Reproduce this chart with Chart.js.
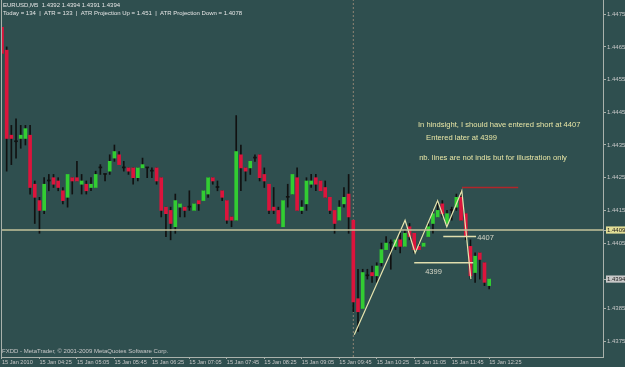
<!DOCTYPE html>
<html>
<head>
<meta charset="utf-8">
<script src="https://cdn.jsdelivr.net/npm/chart.js@4.4.1/dist/chart.umd.min.js"></script>
<style>
  html, body { margin: 0; padding: 0; background: #2f4f4f; overflow: hidden; }
  canvas { display: block; }
</style>
</head>
<body>
<canvas id="chart" width="625" height="367"></canvas>
<script>
// EURUSD M5 bars, 15 Jan 2010 03:45 .. 12:25
const opens = [
  1.4471, 1.4464, 1.4438, 1.4436, 1.4437, 1.4437, 1.4438, 1.4423, 1.4418, 1.4415,
  1.4424, 1.4425, 1.4424, 1.4421, 1.4419, 1.4425, 1.4425, 1.4423, 1.4423, 1.4422,
  1.4422, 1.4428, 1.4426, 1.4427, 1.4431, 1.4432, 1.4428, 1.4428, 1.4428, 1.4425,
  1.4428, 1.4428, 1.4427, 1.4428, 1.4425, 1.4416, 1.4415, 1.4410, 1.4416, 1.4416,
  1.4416, 1.4415, 1.4418, 1.4418, 1.4420, 1.4425, 1.4422, 1.4421, 1.4418, 1.4413,
  1.4412, 1.4432, 1.4428, 1.4428, 1.4431, 1.4432, 1.4426, 1.4423, 1.4416, 1.4415,
  1.4410, 1.4419, 1.4420, 1.4425, 1.4415, 1.4417, 1.4423, 1.4425, 1.4424, 1.4422,
  1.4419, 1.4415, 1.4412, 1.4417, 1.4420, 1.4412, 1.4388, 1.4385, 1.4395, 1.4396,
  1.4395, 1.4399, 1.4403, 1.4405, 1.4404, 1.4406, 1.4404, 1.4410, 1.4408, 1.4404,
  1.4404, 1.4407, 1.4411, 1.4413, 1.4417, 1.4411, 1.4415, 1.4416, 1.4419, 1.4414,
  1.4404, 1.4396, 1.4402, 1.4399, 1.4392
];
const highs = [
  1.4471, 1.4465, 1.4441, 1.4443, 1.4441, 1.4441, 1.4441, 1.4424, 1.4419, 1.4425,
  1.4426, 1.4426, 1.4425, 1.4422, 1.4426, 1.4425, 1.4430, 1.4426, 1.4424, 1.4425,
  1.4427, 1.4429, 1.4426, 1.4432, 1.4435, 1.4433, 1.4430, 1.4428, 1.4428, 1.4428,
  1.4431, 1.4428, 1.4428, 1.4428, 1.4425, 1.4416, 1.4416, 1.4420, 1.4417, 1.4416,
  1.4421, 1.4417, 1.4418, 1.4421, 1.4425, 1.4425, 1.4424, 1.4421, 1.4418, 1.4413,
  1.4444, 1.4435, 1.4428, 1.4430, 1.4432, 1.4432, 1.4428, 1.4423, 1.4422, 1.4416,
  1.4418, 1.4423, 1.4426, 1.4428, 1.4418, 1.4425, 1.4426, 1.4426, 1.4424, 1.4424,
  1.4419, 1.4415, 1.4418, 1.4422, 1.4426, 1.4412, 1.4397, 1.4397, 1.4397, 1.4398,
  1.4399, 1.4405, 1.4407, 1.4406, 1.4406, 1.4408, 1.4409, 1.4411, 1.4408, 1.4405,
  1.4405, 1.4411, 1.4415, 1.4418, 1.4418, 1.4415, 1.4416, 1.4420, 1.4421, 1.4414,
  1.4406, 1.4402, 1.4402, 1.4399, 1.4394
];
const lows = [
  1.4463, 1.4427, 1.4429, 1.4431, 1.4434, 1.4435, 1.4420, 1.4411, 1.4408, 1.4414,
  1.4421, 1.4422, 1.4421, 1.4417, 1.4416, 1.4420, 1.4424, 1.4420, 1.4420, 1.4421,
  1.4422, 1.4426, 1.4424, 1.4426, 1.4430, 1.4429, 1.4427, 1.4426, 1.4423, 1.4424,
  1.4428, 1.4425, 1.4425, 1.4423, 1.4413, 1.4407, 1.4406, 1.4408, 1.4413, 1.4413,
  1.4415, 1.4415, 1.4415, 1.4418, 1.4419, 1.4423, 1.4421, 1.4418, 1.4411, 1.4410,
  1.4412, 1.4421, 1.4424, 1.4426, 1.4430, 1.4424, 1.4422, 1.4414, 1.4414, 1.4411,
  1.4410, 1.4416, 1.4420, 1.4415, 1.4414, 1.4415, 1.4422, 1.4421, 1.4421, 1.4419,
  1.4414, 1.4408, 1.4412, 1.4416, 1.4408, 1.4384, 1.4378, 1.4385, 1.4394, 1.4393,
  1.4393, 1.4398, 1.4403, 1.4397, 1.4403, 1.4402, 1.4404, 1.4406, 1.4402, 1.4403,
  1.4404, 1.4407, 1.4408, 1.4413, 1.4413, 1.4411, 1.4412, 1.4415, 1.4412, 1.4406,
  1.4394, 1.4393, 1.4394, 1.4392, 1.4391
];
const closes = [
  1.4463, 1.4437, 1.4437, 1.4436, 1.4438, 1.4440, 1.4422, 1.4419, 1.4415, 1.4423,
  1.4424, 1.4423, 1.4422, 1.4418, 1.4426, 1.4424, 1.4424, 1.4424, 1.4421, 1.4423,
  1.4426, 1.4428, 1.4426, 1.4430, 1.4433, 1.4429, 1.4428, 1.4427, 1.4425, 1.4428,
  1.4429, 1.4428, 1.4427, 1.4424, 1.4415, 1.4414, 1.4411, 1.4418, 1.4417, 1.4415,
  1.4416, 1.4417, 1.4417, 1.4421, 1.4425, 1.4424, 1.4422, 1.4419, 1.4412, 1.4412,
  1.4433, 1.4428, 1.4427, 1.4430, 1.4431, 1.4425, 1.4424, 1.4415, 1.4415, 1.4411,
  1.4418, 1.4419, 1.4426, 1.4415, 1.4416, 1.4424, 1.4424, 1.4423, 1.4421, 1.4419,
  1.4415, 1.4411, 1.4416, 1.4419, 1.4413, 1.4387, 1.4384, 1.4396, 1.4395, 1.4395,
  1.4398, 1.4403, 1.4405, 1.4405, 1.4406, 1.4404, 1.4408, 1.4407, 1.4403, 1.4403,
  1.4405, 1.4410, 1.4414, 1.4415, 1.4414, 1.4414, 1.4415, 1.4419, 1.4412, 1.4407,
  1.4395, 1.4401, 1.4400, 1.4393, 1.4394
];

// time axis: a label every 8 bars
const timeTickBars = [0, 8, 16, 24, 32, 40, 48, 56, 64, 72, 80, 88, 96, 104];
const timeLabels = [
  '15 Jan 2010', '15 Jan 04:25', '15 Jan 05:05', '15 Jan 05:45', '15 Jan 06:25',
  '15 Jan 07:05', '15 Jan 07:45', '15 Jan 08:25', '15 Jan 09:05', '15 Jan 09:45',
  '15 Jan 10:25', '15 Jan 11:05', '15 Jan 11:45', '15 Jan 12:25'
];
const priceTicks = [1.4375, 1.4385, 1.4394, 1.4405, 1.4409, 1.4415, 1.4425,
                    1.4435, 1.4445, 1.4455, 1.4465, 1.4475];

const bidPrice = 1.4394;
const levelLine = 1.4409;

// hand drawn lines (bar index, price)
const zigzagBars = [75.2, 86.05, 88.2, 93.0, 94.96, 98.16, 100.1];
const zigzagPrices = [1.4377, 1.4412, 1.4402, 1.4418, 1.4410, 1.4421, 1.4394];
const idealEntry = 1.4407;
const actualEntry = 1.4399;
const topLevel = 1.4422;
const markerBar = 75;

const xMin = -0.21, xMax = 128.3;
const yMin = 1.437017, yMax = 1.447934;

const bodyData = opens.map((o, i) => ({ x: i, y: [o, closes[i]] }));
const wickData = opens.map((o, i) => ({ x: i, y: [lows[i], highs[i]] }));
const bodyColors = opens.map((o, i) =>
  closes[i] > o ? '#32cd32' : (closes[i] < o ? '#dc143c' : '#111111'));

const seg = (x0, x1, y) => [{ x: x0, y: y }, { x: x1, y: y }];
const lineDs = (data, color, width, extra) => Object.assign({
  type: 'line', data: data, borderColor: color, borderWidth: width,
  pointRadius: 0, tension: 0, order: 0, fill: false
}, extra || {});

const mtPlugin = {
  id: 'mtText',
  beforeDraw(chart) {
    const ctx = chart.ctx;
    ctx.save();
    ctx.fillStyle = '#2f4f4f';
    ctx.fillRect(0, 0, chart.width, chart.height);
    ctx.restore();
  },
  afterDraw(chart) {
    const { ctx, chartArea, scales: { x, y } } = chart;
    ctx.save();
    // left frame
    ctx.strokeStyle = '#a9b1ab';
    ctx.lineWidth = 1;
    ctx.beginPath();
    ctx.moveTo(chartArea.left + 0.5, chartArea.top);
    ctx.lineTo(chartArea.left + 0.5, chartArea.bottom);
    ctx.stroke();

    ctx.textBaseline = 'middle';
    ctx.font = '6px "Liberation Sans"';
    ctx.fillStyle = '#e6e6e6';
    ctx.fillText('EURUSD,M5  1.4392 1.4394 1.4391 1.4394', 3, 5);
    ctx.fillText('Today = 134  |  ATR = 133  |  ATR Projection Up = 1.451  |  ATR Projection Down = 1.4078', 3, 13);
    ctx.fillStyle = '#c8c8c8';
    ctx.fillText('FXDD - MetaTrader, \u00a9 2001-2009 MetaQuotes Software Corp.', 2, 351);

    ctx.font = '7.6px "Liberation Sans"';
    ctx.fillStyle = '#e8e6a6';
    ctx.fillText('In hindsight, I should have entered short at 4407', x.getPixelForValue(88.8), y.getPixelForValue(1.44411));
    ctx.fillText('Entered later at 4399', x.getPixelForValue(90.54), y.getPixelForValue(1.44371));
    ctx.fillText('nb. lines are not indis but for illustration only', x.getPixelForValue(89.05), y.getPixelForValue(1.4431));
    ctx.fillStyle = '#d8d8c8';
    ctx.font = '7.5px "Liberation Sans"';
    ctx.fillText('4407', x.getPixelForValue(101.43), y.getPixelForValue(1.44066));
    ctx.fillText('4399', x.getPixelForValue(90.33), y.getPixelForValue(1.43962));
    ctx.restore();
  }
};

new Chart(document.getElementById('chart'), {
  type: 'bar',
  data: {
    datasets: [
      { type: 'bar', data: bodyData, backgroundColor: bodyColors, borderWidth: 0,
        barThickness: 3, minBarLength: 1, grouped: false, order: 1 },
      { type: 'bar', data: wickData, backgroundColor: '#111111', borderWidth: 0,
        barThickness: 1, grouped: false, order: 2 },
      lineDs([{ x: markerBar, y: yMin }, { x: markerBar, y: yMax }], '#8e8474', 1,
        { borderDash: [2, 2], order: 3 }),
      lineDs(seg(xMin - 1, xMax + 1, levelLine), '#c4c29a', 1.5),
      lineDs(zigzagBars.map((b, i) => ({ x: b, y: zigzagPrices[i] })), '#e6e4ae', 1.2),
      lineDs(seg(94.2, 101.2, idealEntry), '#e0deae', 1.5),
      lineDs(seg(88.0, 100.6, actualEntry), '#e0deae', 1.5),
      lineDs(seg(98.2, 110.2, topLevel), '#b0262a', 1.5)
    ]
  },
  options: {
    responsive: false,
    animation: false,
    events: [],
    layout: { padding: { left: 1, right: 0, top: 0, bottom: 0 } },
    plugins: { legend: { display: false }, tooltip: { enabled: false } },
    scales: {
      x: {
        type: 'linear', min: xMin, max: xMax, offset: false,
        afterBuildTicks: s => { s.ticks = timeTickBars.map(v => ({ value: v })); },
        afterFit: s => { s.height = 10; s.paddingLeft = 0; s.paddingRight = 0; },
        grid: { drawOnChartArea: false, drawTicks: true, tickLength: 2, color: '#a9b1ab', offset: false },
        border: { display: true, color: '#a9b1ab' },
        ticks: {
          autoSkip: false, maxRotation: 0, minRotation: 0, align: 'start', padding: 0,
          color: '#c8c8c8', font: { family: 'Liberation Sans', size: 5.6 },
          callback: (v, i) => timeLabels[i]
        }
      },
      y: {
        type: 'linear', position: 'right', min: yMin, max: yMax, beginAtZero: false,
        afterBuildTicks: s => { s.ticks = priceTicks.map(v => ({ value: v })); },
        afterFit: s => { s.width = 22; s.paddingTop = 0; s.paddingBottom = 0; },
        grid: { drawOnChartArea: false, drawTicks: true, tickLength: 3, color: '#a9b1ab' },
        border: { display: true, color: '#a9b1ab' },
        ticks: {
          autoSkip: false, padding: 1,
          font: { family: 'Liberation Sans', size: 6 },
          color: c => (c.tick && (c.tick.value === levelLine || c.tick.value === bidPrice)) ? '#1a1a1a' : '#c8c8c8',
          showLabelBackdrop: c => !!(c.tick && (c.tick.value === levelLine || c.tick.value === bidPrice)),
          backdropColor: c => (c.tick && c.tick.value === levelLine) ? '#e2de96' : '#c8c8c8',
          backdropPadding: { x: 1, y: 0 },
          callback: v => v.toFixed(4)
        }
      }
    }
  },
  plugins: [mtPlugin]
});
</script>
</body>
</html>
